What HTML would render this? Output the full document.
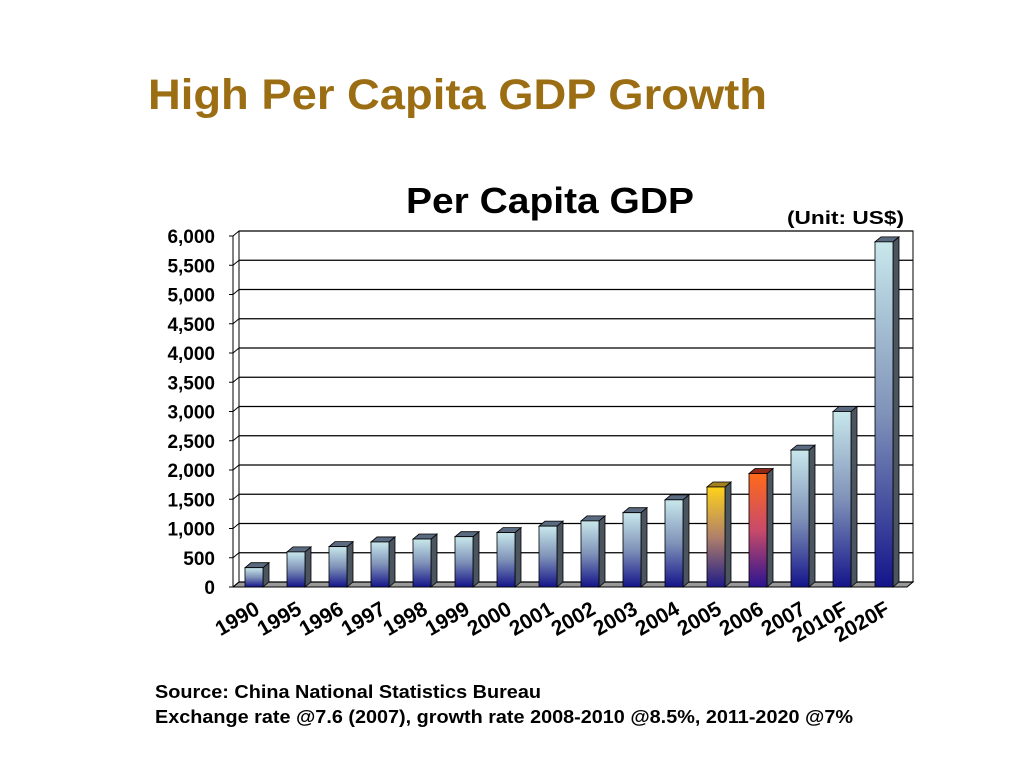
<!DOCTYPE html>
<html><head><meta charset="utf-8"><style>
body{margin:0;width:1024px;height:768px;background:#fff;font-family:"Liberation Sans",Arial,sans-serif;overflow:hidden}
</style></head><body>
<svg width="1024" height="768" xmlns="http://www.w3.org/2000/svg">
<defs>
<linearGradient id="gBlue" x1="0" y1="0" x2="0" y2="1"><stop offset="0" stop-color="#c8e8ec"/><stop offset="0.5" stop-color="#7f92b8"/><stop offset="1" stop-color="#14148a"/></linearGradient>
<linearGradient id="gYel" x1="0" y1="0" x2="0" y2="1"><stop offset="0" stop-color="#ffd21a"/><stop offset="0.5" stop-color="#b0806a"/><stop offset="1" stop-color="#1e1a88"/></linearGradient>
<linearGradient id="gRed" x1="0" y1="0" x2="0" y2="1"><stop offset="0" stop-color="#ff6a1a"/><stop offset="0.5" stop-color="#c84a6a"/><stop offset="1" stop-color="#2a1490"/></linearGradient>
</defs>
<text x="148" y="109" font-size="43" font-weight="bold" fill="#9c6e14" textLength="619" lengthAdjust="spacingAndGlyphs">High Per Capita GDP Growth</text>
<text x="406" y="213" font-size="36" font-weight="bold" fill="#000" textLength="288" lengthAdjust="spacingAndGlyphs">Per Capita GDP</text>
<text x="787" y="224" font-size="18" font-weight="bold" textLength="117" lengthAdjust="spacingAndGlyphs">(Unit: US$)</text>
<g id="chart"></g>
<text x="155" y="698" font-size="18" font-weight="bold" textLength="386" lengthAdjust="spacingAndGlyphs">Source: China National Statistics Bureau</text>
<text x="155" y="723" font-size="18" font-weight="bold" textLength="698" lengthAdjust="spacingAndGlyphs">Exchange rate @7.6 (2007), growth rate 2008-2010 @8.5%, 2011-2020 @7%</text>
</svg>
<script>
const categories=["1990","1995","1996","1997","1998","1999","2000","2001","2002","2003","2004","2005","2006","2007","2010F","2020F"];
const values=[330,600,690,770,820,860,930,1040,1130,1270,1490,1710,1940,2340,3000,5900];
const tickValues=[0,500,1000,1500,2000,2500,3000,3500,4000,4500,5000,5500,6000];
const tickLabels=["0","500","1,000","1,500","2,000","2,500","3,000","3,500","4,000","4,500","5,000","5,500","6,000"];
const fills=["gBlue","gBlue","gBlue","gBlue","gBlue","gBlue","gBlue","gBlue","gBlue","gBlue","gBlue","gYel","gRed","gBlue","gBlue","gBlue"];
const NS="http://www.w3.org/2000/svg";
const g=document.getElementById('chart');
const DX=6,DY=-5,Y0=587,YMAX=236,VMAX=6000,XL=233,XR=907;
function y(v){return Y0-(v/VMAX)*(Y0-YMAX);}
function x(i){return 254+i*42;}
function mk(t,a,p){const e=document.createElementNS(NS,t);for(const k in a)e.setAttribute(k,a[k]);(p||g).appendChild(e);return e;}
const wall=mk('rect',{x:XL+DX,y:YMAX+DY,width:XR-XL,height:Y0-YMAX,fill:'#fff',stroke:'#000','stroke-width':1});


const fl=mk('polygon',{points:`${XL},${Y0} ${XR},${Y0} ${XR+DX},${Y0+DY} ${XL+DX},${Y0+DY}`,fill:'#999',stroke:'#000','stroke-width':1});


const ax=mk('line',{x1:XL,y1:YMAX,x2:XL,y2:Y0,stroke:'#000','stroke-width':1});


tickValues.forEach((v,i)=>{
  const yy=y(v);
  const gl=mk('line',{x1:XL+DX,y1:yy+DY,x2:XR+DX,y2:yy+DY,stroke:'#000','stroke-width':1.3});
  
  
  mk('line',{x1:XL,y1:yy,x2:XL+DX,y2:yy+DY,stroke:'#000','stroke-width':1});
  mk('line',{x1:XL-4,y1:yy,x2:XL,y2:yy,stroke:'#000','stroke-width':1});
  const t=mk('text',{x:215,y:yy+7,'font-size':19,'font-weight':'bold','text-anchor':'end'});
  t.textContent=tickLabels[i];
  
  
});
const BW=18;
values.forEach((v,i)=>{
  const cx=x(i),x0=cx-BW/2,yt=y(v);
  const bg=mk('g',{});
  
  
  mk('polygon',{points:`${x0+BW},${yt} ${x0+BW+DX},${yt+DY} ${x0+BW+DX},${Y0+DY} ${x0+BW},${Y0}`,fill:'#4a5560',stroke:'#000','stroke-width':0.8},bg);
  mk('polygon',{points:`${x0},${yt} ${x0+DX},${yt+DY} ${x0+BW+DX},${yt+DY} ${x0+BW},${yt}`,fill:fills[i]=='gBlue'?'#5a6a80':(fills[i]=='gYel'?'#a08020':'#902818'),stroke:'#000','stroke-width':0.8},bg);
  mk('rect',{x:x0,y:yt,width:BW,height:Y0-yt,fill:`url(#${fills[i]})`,stroke:'#000','stroke-width':0.8},bg);
  const t=mk('text',{x:cx+7,y:Y0+26,'font-size':21,'font-weight':'bold','text-anchor':'end',transform:`rotate(-30 ${cx+7} ${Y0+26})`});
  t.textContent=categories[i];
  
  
});
</script>
</body></html>
